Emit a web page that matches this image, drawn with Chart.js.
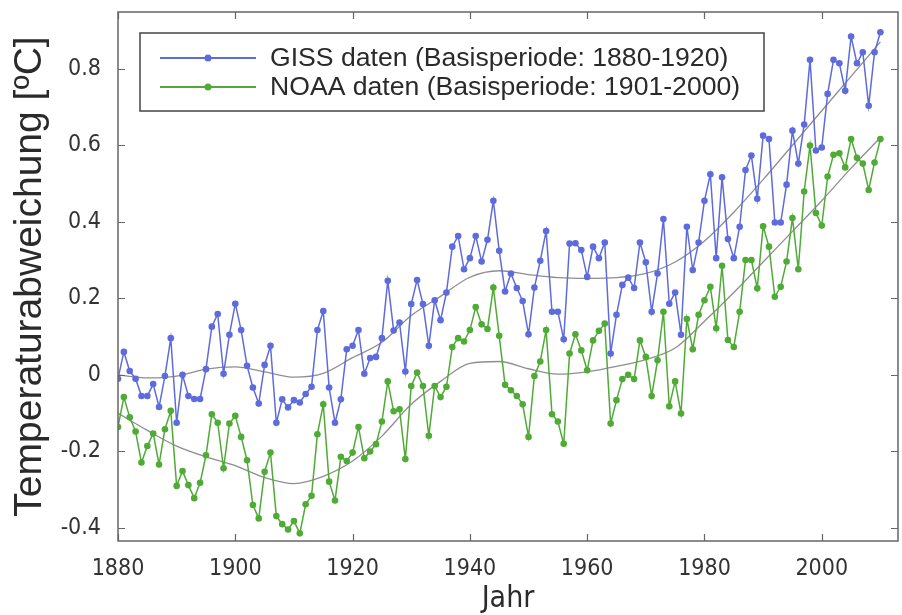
<!DOCTYPE html>
<html><head><meta charset="utf-8">
<script src="https://cdn.jsdelivr.net/npm/chart.js@4/dist/chart.umd.min.js"></script>
<style>html,body{margin:0;padding:0;background:#fff;overflow:hidden}#wrap{width:902px;height:615px}</style>
</head><body><div id="wrap"><canvas id="c" width="902" height="615"></canvas></div>
<script>
const years = [1880,1881,1882,1883,1884,1885,1886,1887,1888,1889,1890,1891,1892,1893,1894,1895,1896,1897,1898,1899,
1900,1901,1902,1903,1904,1905,1906,1907,1908,1909,1910,1911,1912,1913,1914,1915,1916,1917,1918,1919,
1920,1921,1922,1923,1924,1925,1926,1927,1928,1929,1930,1931,1932,1933,1934,1935,1936,1937,1938,1939,
1940,1941,1942,1943,1944,1945,1946,1947,1948,1949,1950,1951,1952,1953,1954,1955,1956,1957,1958,1959,
1960,1961,1962,1963,1964,1965,1966,1967,1968,1969,1970,1971,1972,1973,1974,1975,1976,1977,1978,1979,
1980,1981,1982,1983,1984,1985,1986,1987,1988,1989,1990,1991,1992,1993,1994,1995,1996,1997,1998,1999,
2000,2001,2002,2003,2004,2005,2006,2007,2008,2009,2010];
const giss = [-0.01,0.06,0.01,-0.01,-0.055,-0.055,-0.024,-0.084,-0.003,0.096,-0.125,0.0,-0.055,-0.063,-0.063,0.015,0.126,0.159,0.003,0.105,
0.186,0.117,0.024,-0.033,-0.075,0.026,0.076,-0.125,-0.064,-0.085,-0.066,-0.072,-0.05,-0.031,0.117,0.167,-0.033,-0.125,-0.064,0.067,
0.076,0.117,0.003,0.044,0.047,0.096,0.246,0.116,0.137,0.009,0.185,0.248,0.185,0.076,0.195,0.143,0.215,0.335,0.363,0.276,
0.305,0.363,0.296,0.353,0.455,0.324,0.218,0.265,0.227,0.193,0.106,0.228,0.298,0.376,0.165,0.165,0.093,0.343,0.344,0.326,
0.256,0.335,0.305,0.346,0.056,0.157,0.235,0.254,0.227,0.346,0.294,0.165,0.265,0.407,0.186,0.215,0.105,0.387,0.274,0.346,
0.455,0.524,0.305,0.516,0.355,0.305,0.387,0.535,0.573,0.46,0.625,0.616,0.398,0.398,0.497,0.638,0.552,0.654,0.823,0.586,
0.594,0.734,0.823,0.814,0.742,0.884,0.814,0.843,0.703,0.843,0.895];
const noaa = [-0.136,-0.058,-0.111,-0.148,-0.229,-0.186,-0.153,-0.234,-0.142,-0.094,-0.29,-0.251,-0.288,-0.322,-0.282,-0.21,-0.103,-0.125,-0.244,-0.127,
-0.107,-0.162,-0.223,-0.34,-0.375,-0.253,-0.203,-0.369,-0.39,-0.404,-0.382,-0.414,-0.338,-0.316,-0.155,-0.077,-0.279,-0.328,-0.214,-0.225,
-0.203,-0.136,-0.218,-0.2,-0.181,-0.122,-0.017,-0.095,-0.09,-0.22,-0.029,0.006,-0.029,-0.159,-0.029,-0.058,-0.031,0.073,0.096,0.087,
0.117,0.177,0.132,0.12,0.228,0.102,-0.026,-0.04,-0.055,-0.077,-0.162,-0.003,0.035,0.117,-0.103,-0.122,-0.18,0.056,0.106,0.064,
0.012,0.09,0.115,0.134,-0.127,-0.066,-0.011,0.0,-0.011,0.09,0.047,-0.055,0.038,0.165,-0.082,-0.017,-0.101,0.146,0.067,0.157,
0.195,0.23,0.122,0.285,0.091,0.073,0.165,0.3,0.3,0.226,0.388,0.335,0.204,0.23,0.296,0.41,0.276,0.479,0.599,0.423,
0.39,0.518,0.575,0.579,0.542,0.616,0.567,0.552,0.483,0.555,0.616];
const smoothYears = [1880,1885,1890,1895,1900,1905,1910,1915,1920,1925,1930,1935,1940,1945,1950,1955,1960,1965,1970,1975,1980,1985,1990,1995,2000,2005,2010];
const gissSmooth = [0.0,-0.008,-0.003,0.015,0.021,0.008,-0.006,0.004,0.045,0.085,0.155,0.205,0.255,0.272,0.262,0.254,0.252,0.254,0.265,0.295,0.35,0.425,0.51,0.6,0.69,0.78,0.87];
const noaaSmooth = [-0.10,-0.145,-0.186,-0.214,-0.237,-0.268,-0.284,-0.265,-0.225,-0.16,-0.077,-0.017,0.03,0.035,0.016,0.002,0.008,0.022,0.04,0.07,0.14,0.215,0.295,0.375,0.455,0.54,0.62];
const xTicks = [1880,1900,1920,1940,1960,1980,2000];
const yTicks = [-0.4,-0.2,0,0.2,0.4,0.6,0.8];
const seriesNames = ['GISS daten (Basisperiode: 1880-1920)','NOAA daten (Basisperiode: 1901-2000)'];
const xTitle = 'Jahr';
const yTitle = 'Temperaturabweichung [ºC]';

const BLUE = '#5d6bdc', GREEN = '#4fab35', GRAY = '#8e8e8e', FRAME = '#666';
const NARROW = '"Liberation Sans Narrow","Arial Narrow","DejaVu Sans Condensed","Liberation Sans",Arial,sans-serif';
const ARIAL = '"Liberation Sans",Arial,sans-serif';

const pts = (xs, ys) => xs.map((x, i) => ({x: x, y: ys[i]}));

const framePlugin = {
  id: 'frame',
  afterDatasetsDraw(chart) {
    const {ctx, chartArea: a, scales: {x, y}} = chart;
    ctx.save();
    ctx.strokeStyle = FRAME;
    ctx.lineWidth = 1.5;
    ctx.strokeRect(a.left, a.top, a.right - a.left, a.bottom - a.top);
    ctx.lineWidth = 1.2;
    ctx.beginPath();
    xTicks.forEach(v => {
      const p = Math.round(x.getPixelForValue(v)) + 0.5;
      ctx.moveTo(p, a.bottom); ctx.lineTo(p, a.bottom - 7);
      ctx.moveTo(p, a.top); ctx.lineTo(p, a.top + 7);
    });
    yTicks.forEach(v => {
      const p = Math.round(y.getPixelForValue(v)) + 0.5;
      ctx.moveTo(a.left, p); ctx.lineTo(a.left + 7, p);
      ctx.moveTo(a.right, p); ctx.lineTo(a.right - 7, p);
    });
    ctx.stroke();
    // legend
    const bx = a.left + 22, by = a.top + 21, bw = 624, bh = 78;
    ctx.fillStyle = '#fff';
    ctx.fillRect(bx, by, bw, bh);
    ctx.strokeStyle = '#444';
    ctx.lineWidth = 1.5;
    ctx.strokeRect(bx, by, bw, bh);
    const colors = [BLUE, GREEN];
    seriesNames.forEach((name, i) => {
      const ry = by + 25 + i * 29;
      ctx.strokeStyle = colors[i];
      ctx.lineWidth = 1.8;
      ctx.beginPath(); ctx.moveTo(bx + 20, ry); ctx.lineTo(bx + 116, ry); ctx.stroke();
      ctx.fillStyle = colors[i];
      ctx.beginPath(); ctx.arc(bx + 68, ry, 3.5, 0, Math.PI * 2); ctx.fill();
      ctx.fillStyle = '#2a2a2a';
      ctx.font = '26.6px ' + ARIAL;
      ctx.textBaseline = 'middle';
      ctx.textAlign = 'left';
      ctx.fillText(name, bx + 130, ry + 1);
    });
    ctx.restore();
  }
};

new Chart(document.getElementById('c'), {
  type: 'line',
  data: {
    datasets: [
      {data: pts(years, giss), borderColor: BLUE, backgroundColor: BLUE, borderWidth: 1.5, pointRadius: 3.3, pointBorderWidth: 0, pointBackgroundColor: BLUE, tension: 0, order: 1},
      {data: pts(years, noaa), borderColor: GREEN, backgroundColor: GREEN, borderWidth: 1.5, pointRadius: 3.3, pointBorderWidth: 0, pointBackgroundColor: GREEN, tension: 0, order: 2},
      {data: pts(smoothYears, gissSmooth), borderColor: GRAY, borderWidth: 1.3, pointRadius: 0, cubicInterpolationMode: 'monotone', order: 3},
      {data: pts(smoothYears, noaaSmooth), borderColor: GRAY, borderWidth: 1.3, pointRadius: 0, cubicInterpolationMode: 'monotone', order: 4}
    ]
  },
  options: {
    responsive: false, animation: false, devicePixelRatio: 1,
    layout: {padding: {top: 12, right: 2, left: 0, bottom: 0}},
    plugins: {legend: {display: false}, tooltip: {enabled: false}},
    scales: {
      x: {
        type: 'linear', min: 1880, max: 2013,
        afterBuildTicks: s => { s.ticks = xTicks.map(v => ({value: v})); },
        afterFit: s => { s.height = 74; s.paddingLeft = 0; s.paddingRight = 0; },
        grid: {display: false}, border: {display: false},
        ticks: {font: {family: NARROW, size: 23}, color: '#333', padding: 6, maxRotation: 0, autoSkip: false, callback: v => String(v)},
        title: {display: true, text: xTitle, font: {family: NARROW, size: 30, lineHeight: 1}, color: '#2a2a2a', padding: {top: 0, bottom: 1}}
      },
      y: {
        type: 'linear', min: -0.434, max: 0.948,
        afterBuildTicks: s => { s.ticks = yTicks.map(v => ({value: v})); },
        afterFit: s => { s.width = 118; s.paddingTop = 0; s.paddingBottom = 0; },
        grid: {display: false}, border: {display: false},
        ticks: {font: {family: NARROW, size: 23}, color: '#333', padding: 9, autoSkip: false, callback: v => Math.abs(v) < 1e-9 ? '0' : v.toFixed(1)},
        title: {display: true, text: yTitle, font: {family: ARIAL, size: 39, lineHeight: 1}, color: '#2a2a2a', padding: {top: 11, bottom: 0}}
      }
    }
  },
  plugins: [framePlugin]
});
</script>
</body></html>
